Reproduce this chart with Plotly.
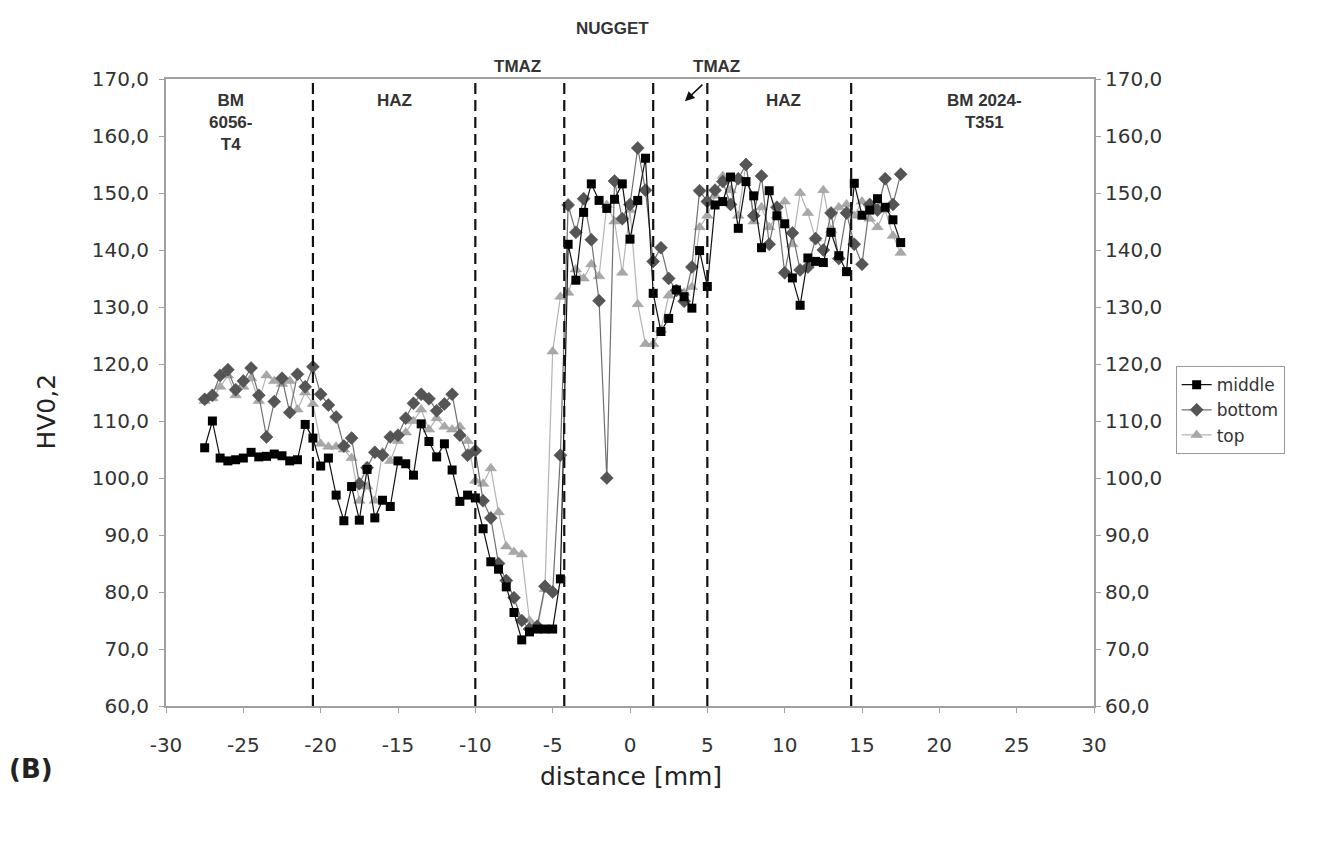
import plotly.graph_objects as go

# ---------------- data ----------------
distance = [-27.5, -27.0, -26.5, -26.0, -25.5, -25.0, -24.5, -24.0, -23.5, -23.0,
            -22.5, -22.0, -21.5, -21.0, -20.5,
            -20.0, -19.5, -19.0, -18.5, -18.0, -17.5, -17.0, -16.5, -16.0,
            -15.5, -15.0, -14.5, -14.0, -13.5, -13.0, -12.5, -12.0, -11.5, -11.0,
            -10.5, -10.0, -9.5, -9.0, -8.5, -8.0, -7.5, -7.0, -6.5, -6.0,
            -5.5, -5.0, -4.5, -4.0, -3.5, -3.0, -2.5, -2.0, -1.5, -1.0,
            -0.5, 0.0, 0.5, 1.0, 1.5, 2.0, 2.5, 3.0, 3.5, 4.0,
            4.5, 5.0, 5.5, 6.0, 6.5, 7.0, 7.5, 8.0, 8.5, 9.0,
            9.5, 10.0, 10.5, 11.0, 11.5, 12.0, 12.5, 13.0, 13.5, 14.0,
            14.5, 15.0, 15.5, 16.0, 16.5, 17.0, 17.5]

hv_middle = [105.3, 110.0, 103.5, 103.0, 103.2, 103.5, 104.5, 103.7, 103.8, 104.2,
             103.9, 103.0, 103.2, 109.4, 107.0,
             102.1, 103.5, 97.0, 92.5, 98.5, 92.6, 101.5, 93.0, 96.1,
             95.0, 103.0, 102.5, 100.5, 109.5, 106.4, 103.7, 106.0, 101.4, 95.9,
             97.0, 96.5, 91.1, 85.3, 84.0, 80.9, 76.4, 71.6, 73.0, 73.5,
             73.5, 73.5, 82.3, 141.0, 134.7, 146.6, 151.6, 148.7, 147.3, 148.9,
             151.6, 141.9, 148.7, 156.1, 132.4, 125.7, 128.0, 133.0, 131.8, 129.8,
             139.9, 133.6, 147.9, 148.5, 152.8, 143.8, 152.0, 149.5, 140.4, 150.4,
             146.0, 144.6, 135.1, 130.3, 138.6, 138.0, 137.8, 143.1, 139.0, 136.2,
             151.7, 146.1, 147.0, 149.0, 147.5, 145.3, 141.3]

hv_bottom = [113.8, 114.5, 118.0, 119.0, 115.5, 117.0, 119.3, 114.5, 107.2, 113.4,
             117.5, 111.5, 118.2, 116.0, 119.5,
             114.7, 112.8, 110.7, 105.6, 107.0, 99.0, 101.8, 104.5, 104.0,
             107.2, 107.5, 110.5, 113.1, 114.7, 113.9, 111.8, 113.0, 114.7, 107.5,
             104.0, 104.8, 96.0, 93.0, 85.0, 82.0, 79.0, 75.0, 73.5, 74.0,
             81.0, 80.0, 104.0, 147.9, 143.1, 149.0, 141.8, 131.1, 100.0, 152.1,
             145.5, 148.0, 157.9, 150.5, 138.0, 140.4, 135.0, 132.9, 131.0, 137.0,
             150.4, 148.5, 150.5, 152.0, 148.0, 152.5, 155.0, 146.0, 153.0, 141.0,
             147.5, 136.0, 143.0, 136.5, 137.0, 142.0, 140.0, 146.5, 138.5, 146.5,
             141.0, 137.5, 148.0, 147.0, 152.5, 148.0, 153.3]

hv_top = [113.5, 114.0, 116.0, 118.0, 114.5, 116.0, 117.5, 113.5, 118.0, 117.0,
          116.5, 117.0, 112.0, 115.0, 113.0,
          106.0, 105.5, 105.5, 105.0, 103.5, 96.0, 98.5, 96.0, 104.5,
          103.0, 106.5, 108.0, 110.0, 112.0, 108.5, 110.5, 109.0, 108.5, 109.0,
          106.5, 99.5, 99.0, 101.7, 94.0, 88.0, 87.0, 86.6, 75.0, 73.5,
          80.5, 122.2, 131.8, 132.5, 136.6, 135.0, 137.5, 135.4, 147.9, 145.0,
          136.0, 147.0, 130.5, 123.5, 123.5, 126.0, 132.0, 133.0, 132.5, 133.5,
          144.0, 146.0, 149.5, 153.0, 150.5, 146.0, 155.2, 145.0, 147.5, 144.0,
          146.0, 148.5, 141.0, 150.0, 146.5, 142.0, 150.5, 143.5, 147.5, 148.0,
          146.0, 148.5, 145.5, 144.0, 147.0, 142.5, 139.5]

zone_bounds = [-20.5, -10.0, -4.25, 1.5, 5.0, 14.3]

x_tick_vals = [-30, -25, -20, -15, -10, -5, 0, 5, 10, 15, 20, 25, 30]
x_tick_text = ["-30", "-25", "-20", "-15", "-10", "-5", "0", "5", "10", "15", "20", "25", "30"]
y_tick_vals = [60, 70, 80, 90, 100, 110, 120, 130, 140, 150, 160, 170]
y_tick_text = ["60,0", "70,0", "80,0", "90,0", "100,0", "110,0", "120,0",
               "130,0", "140,0", "150,0", "160,0", "170,0"]

# ---------------- figure ----------------
fig = go.Figure()

fig.add_trace(go.Scatter(
    x=distance, y=hv_top, name="top", mode="lines+markers", legendrank=3,
    line=dict(color="#b4b4b4", width=1.2),
    marker=dict(symbol="triangle-up", size=10, color="#a8a8a8",
                line=dict(color="#9a9a9a", width=0.5))))
fig.add_trace(go.Scatter(
    x=distance, y=hv_bottom, name="bottom", mode="lines+markers", legendrank=2,
    line=dict(color="#707070", width=1.2),
    marker=dict(symbol="diamond", size=10, color="#555555",
                line=dict(color="#444444", width=0.5))))
fig.add_trace(go.Scatter(
    x=distance, y=hv_middle, name="middle", mode="lines+markers", legendrank=1,
    line=dict(color="#111111", width=1.2),
    marker=dict(symbol="square", size=9, color="#000000")))

# invisible trace to carry the right-hand axis
fig.add_trace(go.Scatter(
    x=distance, y=hv_middle, yaxis="y2", mode="lines", showlegend=False,
    hoverinfo="skip", line=dict(color="rgba(0,0,0,0)", width=0)))

for xb in zone_bounds:
    fig.add_shape(type="line", xref="x", yref="paper", x0=xb, x1=xb, y0=0, y1=1,
                  line=dict(color="#111111", width=2.2, dash="11px,6px"))

zone_font = dict(family="Liberation Sans, Arial, sans-serif", size=17, color="#333333")
annots = [
    dict(x=-25.8, y=168.3, text="<b>BM<br>6056-<br>T4</b>"),
    dict(x=-15.25, y=168.3, text="<b>HAZ</b>"),
    dict(x=9.95, y=168.3, text="<b>HAZ</b>"),
    dict(x=22.9, y=168.3, text="<b>BM 2024-<br>T351</b>"),
]
for a in annots:
    fig.add_annotation(x=a["x"], y=a["y"], text=a["text"], showarrow=False,
                       xref="x", yref="y", yanchor="top", xanchor="center",
                       font=zone_font, align="center")

fig.add_annotation(x=-1.1, y=1.099, xref="x", yref="paper", text="<b>NUGGET</b>",
                   showarrow=False, font=zone_font)
fig.add_annotation(x=-7.3, y=1.038, xref="x", yref="paper", text="<b>TMAZ</b>",
                   showarrow=False, font=zone_font)
fig.add_annotation(x=5.6, y=1.038, xref="x", yref="paper", text="<b>TMAZ</b>",
                   showarrow=False, font=zone_font)
fig.add_annotation(x=3.55, y=166.1, xref="x", yref="y", text="", showarrow=True,
                   ax=19, ay=-18, arrowhead=2, arrowsize=1.2, arrowwidth=1.6,
                   arrowcolor="#111111")

title_font = dict(family="DejaVu Sans, Verdana, sans-serif", size=25, color="#222222")
fig.add_annotation(x=0.501, y=-0.112, xref="paper", yref="paper", text="distance [mm]",
                   showarrow=False, xanchor="center", yanchor="middle", font=title_font)
fig.add_annotation(x=-0.129, y=0.470, xref="paper", yref="paper", text="HV0,2",
                   showarrow=False, textangle=-90, xanchor="center", yanchor="middle",
                   font=title_font)
fig.add_annotation(x=-0.145, y=-0.100, xref="paper", yref="paper", text="<b>(B)</b>",
                   showarrow=False, xanchor="center", yanchor="middle",
                   font=dict(family="DejaVu Sans, Verdana, sans-serif", size=26, color="#222222"))

tick_font = dict(family="DejaVu Sans, Verdana, sans-serif", size=20, color="#333333")
axis_common = dict(showline=True, linecolor="#a0a0a0", linewidth=2, ticks="outside",
                   ticklen=5, tickcolor="#a0a0a0", showgrid=False, zeroline=False,
                   tickfont=tick_font)

fig.update_layout(
    width=1338, height=855,
    margin=dict(l=158, r=252, t=71, b=157),
    paper_bgcolor="white", plot_bgcolor="white",
    showlegend=True,
    legend=dict(x=1.088, y=0.542, xanchor="left", yanchor="top",
                bordercolor="#999999", borderwidth=1, bgcolor="white",
                font=dict(family="DejaVu Sans, Verdana, sans-serif", size=17, color="#333333"),
                tracegroupgap=0),
    xaxis=dict(range=[-30, 30], tickvals=x_tick_vals, ticktext=x_tick_text,
               mirror=True, ticklabelstandoff=15, **axis_common),
    yaxis=dict(range=[60, 170], tickvals=y_tick_vals, ticktext=y_tick_text,
               ticklabelstandoff=6, **axis_common),
    yaxis2=dict(range=[60, 170], tickvals=y_tick_vals, ticktext=y_tick_text,
                overlaying="y", side="right", anchor="x", **axis_common),
)

fig.write_html("out.html")
